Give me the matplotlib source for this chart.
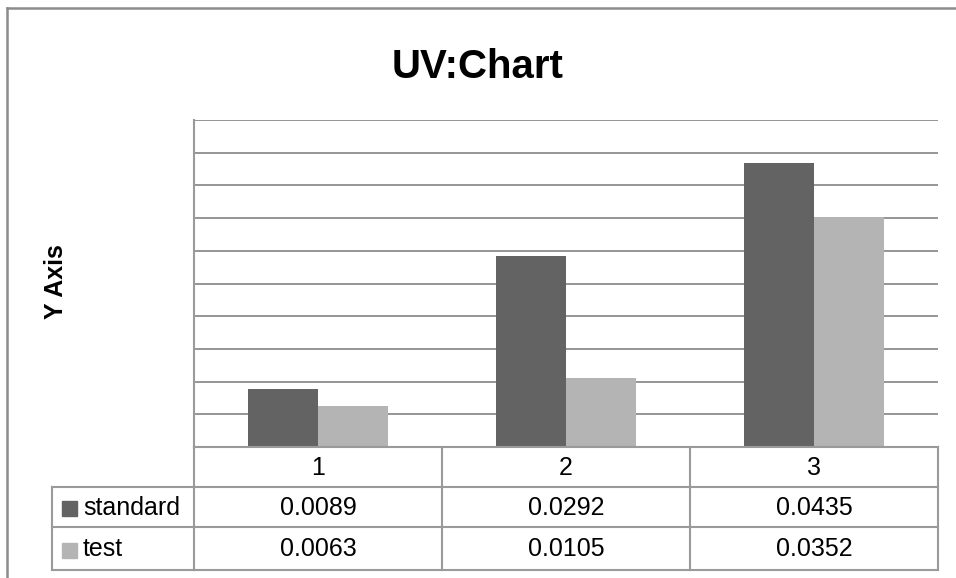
import matplotlib
matplotlib.use('Agg')
from matplotlib import pyplot as plt
from matplotlib.lines import Line2D
from matplotlib.patches import Rectangle
from matplotlib.transforms import blended_transform_factory
import numpy as np

plt.rcParams['font.family'] = ['Liberation Sans', 'DejaVu Sans']

categories = ['1', '2', '3']
series_names = ['standard', 'test']
standard = [0.0089, 0.0292, 0.0435]
test = [0.0063, 0.0105, 0.0352]
series_colors = ['#636363', '#b4b4b4']

W, H = 956, 578
fig = plt.figure(figsize=(W / 100, H / 100), dpi=100)

def fx(px):
    return px / W

def fy(py):
    return 1 - py / H

# plot area
left, right, top, bottom = 194, 938, 120, 447
ax = fig.add_axes([fx(left), fy(bottom), fx(right - left), fy(top) - fy(bottom)])

x = np.arange(len(categories))
bw = 0.283
for i, (vals, color) in enumerate(zip([standard, test], series_colors)):
    ax.bar(x + (i - 0.5) * bw, vals, width=bw, color=color, zorder=3)

ax.set_xlim(-0.5, len(categories) - 0.5)
ax.set_ylim(0, 0.05)
ax.set_yticks(np.arange(0, 0.0501, 0.005))
ax.yaxis.grid(True, color='#8c8c8c', linewidth=1.3, zorder=0)
ax.set_xticks([])
ax.tick_params(left=False, labelleft=False)
for s in ['top', 'right', 'bottom']:
    ax.spines[s].set_visible(False)
ax.spines['left'].set_color('#9a9a9a')
ax.spines['left'].set_linewidth(1.5)

# data table under the axes: columns follow the x data scale
tr = blended_transform_factory(ax.transData, fig.transFigure)
line_kw = dict(color='#9a9a9a', linewidth=1.5)
row_y = [447, 487, 527, 570]
label_left = 52
xl, xr = -0.5, len(categories) - 0.5
fs = 18

def hline(y, x0, x1, t):
    fig.add_artist(Line2D([x0, x1], [fy(y), fy(y)], transform=t, **line_kw))

def vline(xv, y0, y1, t):
    fig.add_artist(Line2D([xv, xv], [fy(y0), fy(y1)], transform=t, **line_kw))

hline(row_y[1], fx(label_left), fx(left), fig.transFigure)
hline(row_y[2], fx(label_left), fx(left), fig.transFigure)
hline(row_y[3], fx(label_left), fx(left), fig.transFigure)
vline(fx(label_left), row_y[1], row_y[3], fig.transFigure)
vline(fx(left), row_y[0], row_y[3], fig.transFigure)
for yy in row_y:
    hline(yy, xl, xr, tr)
for xb in np.arange(xl + 1, xr + 0.01, 1):
    vline(xb, row_y[0], row_y[3], tr)

for i, c in enumerate(categories):
    fig.text(x[i], fy((row_y[0] + row_y[1]) / 2 + 1), c, transform=tr,
             ha='center', va='center', fontsize=fs)
for r, (vals, name, color) in enumerate(zip([standard, test], series_names, series_colors)):
    yc = fy((row_y[r + 1] + row_y[r + 2]) / 2 + 1)
    for i, v in enumerate(vals):
        fig.text(x[i], yc, '{:.4f}'.format(v), transform=tr,
                 ha='center', va='center', fontsize=fs)
    fig.add_artist(Rectangle((fx(62), yc - 8 / H), 15 / W, 15 / H,
                             transform=fig.transFigure, color=color))
    fig.text(fx(83), yc, name, ha='left', va='center', fontsize=fs)

fig.text(0.5, fy(67), 'UV:Chart', ha='center', va='center',
         fontsize=29, fontweight='bold')
fig.text(fx(56), fy(282), 'Y Axis', rotation=90, ha='center', va='center',
         fontsize=18, fontweight='bold')

# outer chart frame
fig.add_artist(Line2D([fx(7), fx(7)], [fy(8), 0], transform=fig.transFigure,
                      color='#8c8c8c', linewidth=1.8))
fig.add_artist(Line2D([fx(7), 1], [fy(8), fy(8)], transform=fig.transFigure,
                      color='#8c8c8c', linewidth=1.8))

fig.savefig('out.png', dpi=100)
